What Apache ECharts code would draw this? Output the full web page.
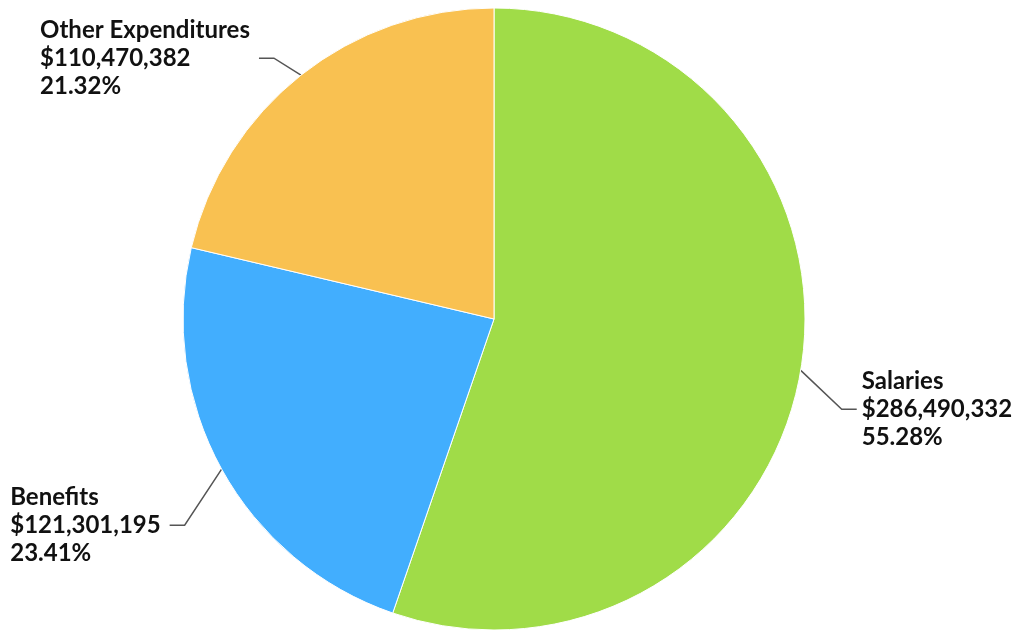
<!DOCTYPE html>
<html>
<head>
<meta charset="utf-8">
<style>
  html, body { margin: 0; padding: 0; background: #fff; }
  #chart { width: 1021px; height: 631px; }
</style>
<script src="https://cdn.jsdelivr.net/npm/echarts@6/dist/echarts.min.js"></script>
</head>
<body>
<div id="chart"></div>
<script>
// data
const categories = ['Salaries', 'Benefits', 'Other Expenditures'];
const amounts = [286490332, 121301195, 110470382];
const sliceColors = ['#A0DC48', '#42AEFE', '#F9C151'];
const total = amounts.reduce((a, b) => a + b, 0);

// where each leader line bends, relative to the slice edge
const leaderBend = [[41, 39], [-37, 56], [-27, -17]];
const leaderTail = 15;

const chart = echarts.init(document.getElementById('chart'));

chart.setOption({
  backgroundColor: '#fff',
  animation: false,
  series: [{
    type: 'pie',
    center: [494, 319],
    radius: 311,
    startAngle: 90,
    clockwise: true,
    avoidLabelOverlap: false,
    data: categories.map((name, i) => ({
      name,
      value: amounts[i],
      itemStyle: { color: sliceColors[i] }
    })),
    itemStyle: { borderColor: '#fff', borderWidth: 1 },
    label: {
      show: true,
      position: 'outside',
      fontFamily: 'Lato',
      fontWeight: 'bold',
      fontSize: 24,
      color: '#111',
      lineHeight: 28,
      // percent from the raw share, not the rounded-to-100 one
      formatter: p => `{t|${p.name}}\n{t|$${p.value.toLocaleString('en-US')}}\n{t|${(p.value / total * 100).toFixed(2)}%}`,
      rich: {
        t: { align: 'left', fontFamily: 'Lato', fontWeight: 'bold', fontSize: 24, lineHeight: 28, color: '#111' }
      }
    },
    labelLine: {
      show: true,
      length: 20,
      length2: 15,
      lineStyle: { color: '#555', width: 1.5 }
    },
    labelLayout: function (params) {
      const pts = params.labelLinePoints;
      if (!pts) return {};
      const ox = pts[0][0], oy = pts[0][1];
      const b = leaderBend[params.dataIndex];
      const isLeft = b[0] < 0;
      const bx = ox + b[0], by = oy + b[1];
      const ex = bx + (isLeft ? -leaderTail : leaderTail);
      return {
        x: ex + (isLeft ? -9 : 5),
        y: by,
        align: isLeft ? 'right' : 'left',
        verticalAlign: 'middle',
        labelLinePoints: [[ox, oy], [bx, by], [ex, by]]
      };
    }
  }]
});

window.addEventListener('resize', () => chart.resize());
</script>
</body>
</html>
